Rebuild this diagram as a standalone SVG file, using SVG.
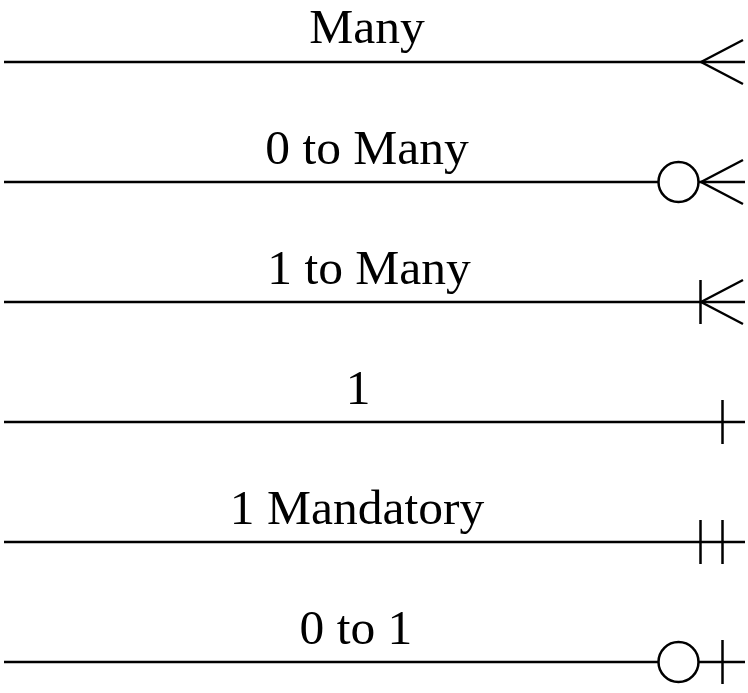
<svg xmlns="http://www.w3.org/2000/svg" width="748" height="693" viewBox="0 0 748 693">
<style>
.l{stroke:#000;stroke-width:2.5;fill:none}
.c{stroke:#000;stroke-width:2.5;fill:#fff}
text{font-family:"Liberation Serif","Times New Roman",serif;font-size:49.5px;fill:#000;text-anchor:middle}
</style>
<defs>
<path id="crow" d="M701,0 L743,-22 M701,0 L743,22"/>
</defs>
<g id="labels">
<text x="367" y="43">Many</text>
<text x="367" y="164">0 to Many</text>
<text x="369" y="284">1 to Many</text>
<text x="358" y="404">1</text>
<text x="357" y="524">1 Mandatory</text>
<text x="356" y="644">0 to 1</text>
</g>
<g id="connectors">
<g id="many">
<line class="l" x1="4" y1="62" x2="745" y2="62"/>
<use href="#crow" class="l" transform="translate(0,62)"/>
</g>
<g id="zero-to-many">
<line class="l" x1="4" y1="182" x2="745" y2="182"/>
<use href="#crow" class="l" transform="translate(0,182)"/>
<circle class="c" cx="678.5" cy="182" r="20"/>
</g>
<g id="one-to-many">
<line class="l" x1="4" y1="302" x2="745" y2="302"/>
<use href="#crow" class="l" transform="translate(0,302)"/>
<line class="l" x1="700.5" y1="280" x2="700.5" y2="324"/>
</g>
<g id="one">
<line class="l" x1="4" y1="422" x2="745" y2="422"/>
<line class="l" x1="722.5" y1="400" x2="722.5" y2="444"/>
</g>
<g id="one-mandatory">
<line class="l" x1="4" y1="542" x2="745" y2="542"/>
<line class="l" x1="700.5" y1="520" x2="700.5" y2="564"/>
<line class="l" x1="722.5" y1="520" x2="722.5" y2="564"/>
</g>
<g id="zero-to-one">
<line class="l" x1="4" y1="662" x2="745" y2="662"/>
<circle class="c" cx="678.5" cy="662" r="20"/>
<line class="l" x1="722.5" y1="640" x2="722.5" y2="684"/>
</g>
</g>
</svg>
